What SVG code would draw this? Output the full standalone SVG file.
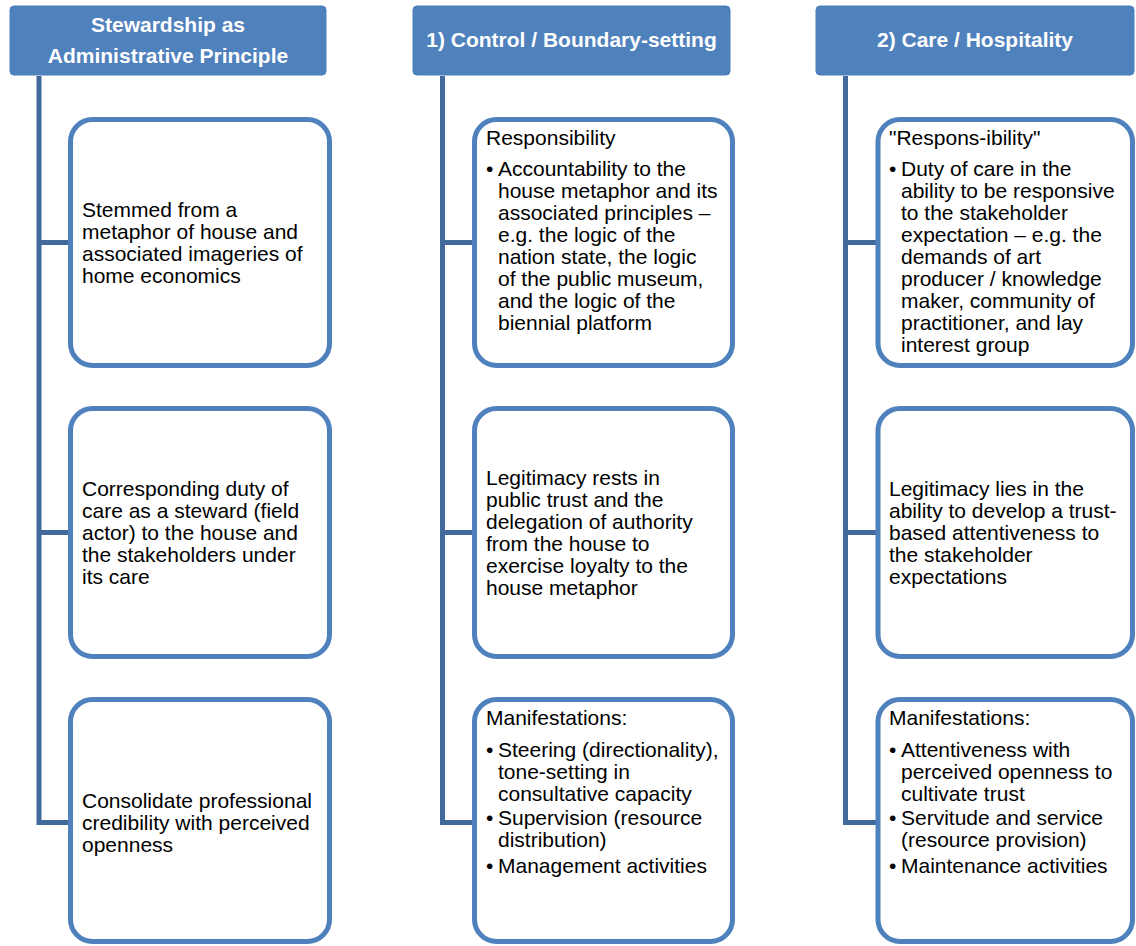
<svg xmlns="http://www.w3.org/2000/svg" width="1136" height="946" viewBox="0 0 1136 946">
<style>
.hdr{fill:#4F81BD;stroke:#4A7CB8;stroke-width:1}
.ht{font-family:"Liberation Sans",Arial,sans-serif;font-size:21px;font-weight:bold;fill:#FFFFFF;text-anchor:middle}
.box{fill:#FFFFFF;stroke:#4F81BD;stroke-width:5}
.t{font-family:"Liberation Sans",Arial,sans-serif;font-size:21px;fill:#000000}
.con{fill:none;stroke:#41699A;stroke-width:5}
</style>
<rect width="1136" height="946" fill="#FFFFFF"/>
<g id="connectors">
<path class="con" d="M39 76 V822.5 H70"/>
<path class="con" d="M39 242.5 H70 M39 532.5 H70"/>
<path class="con" d="M442.5 76 V822.5 H474.5"/>
<path class="con" d="M442.5 242.5 H474.5 M442.5 532.5 H474.5"/>
<path class="con" d="M845.5 76 V822.5 H878"/>
<path class="con" d="M845.5 242.5 H878 M845.5 532.5 H878"/>
</g>
<g id="h1">
<rect class="hdr" x="10" y="6" width="316" height="69" rx="4"/>
<text class="ht" x="168" y="32">Stewardship as</text>
<text class="ht" x="168" y="63">Administrative Principle</text>
</g>
<g id="h2">
<rect class="hdr" x="413" y="6" width="317" height="69" rx="4"/>
<text class="ht" x="571.5" y="47">1) Control / Boundary-setting</text>
</g>
<g id="h3">
<rect class="hdr" x="816" y="6" width="318" height="69" rx="4"/>
<text class="ht" x="975" y="47">2) Care / Hospitality</text>
</g>
<g id="c1b1">
<rect class="box" x="70.5" y="119.5" width="259" height="246" rx="22"/>
<text class="t" x="82" y="217">Stemmed from a</text>
<text class="t" x="82" y="239">metaphor of house and</text>
<text class="t" x="82" y="261">associated imageries of</text>
<text class="t" x="82" y="283">home economics</text>
</g>
<g id="c1b2">
<rect class="box" x="70.5" y="408.5" width="259" height="248" rx="22"/>
<text class="t" x="82" y="496">Corresponding duty of</text>
<text class="t" x="82" y="518">care as a steward (field</text>
<text class="t" x="82" y="540">actor) to the house and</text>
<text class="t" x="82" y="562">the stakeholders under</text>
<text class="t" x="82" y="584">its care</text>
</g>
<g id="c1b3">
<rect class="box" x="70.5" y="699.5" width="259" height="242" rx="22"/>
<text class="t" x="82" y="808">Consolidate professional</text>
<text class="t" x="82" y="830">credibility with perceived</text>
<text class="t" x="82" y="852">openness</text>
</g>
<g id="c2b1">
<rect class="box" x="474.5" y="119.5" width="258" height="246" rx="22"/>
<text class="t" x="486" y="145">Responsibility</text>
<text class="t" x="486" y="176">•</text>
<text class="t" x="498" y="176">Accountability to the</text>
<text class="t" x="498" y="198">house metaphor and its</text>
<text class="t" x="498" y="220">associated principles –</text>
<text class="t" x="498" y="242">e.g. the logic of the</text>
<text class="t" x="498" y="264">nation state, the logic</text>
<text class="t" x="498" y="286">of the public museum,</text>
<text class="t" x="498" y="308">and the logic of the</text>
<text class="t" x="498" y="330">biennial platform</text>
</g>
<g id="c2b2">
<rect class="box" x="474.5" y="408.5" width="258" height="248" rx="22"/>
<text class="t" x="486" y="485">Legitimacy rests in</text>
<text class="t" x="486" y="507">public trust and the</text>
<text class="t" x="486" y="529">delegation of authority</text>
<text class="t" x="486" y="551">from the house to</text>
<text class="t" x="486" y="573">exercise loyalty to the</text>
<text class="t" x="486" y="595">house metaphor</text>
</g>
<g id="c2b3">
<rect class="box" x="474.5" y="699.5" width="258" height="242" rx="22"/>
<text class="t" x="486" y="725">Manifestations:</text>
<text class="t" x="486" y="757">•</text>
<text class="t" x="498" y="757">Steering (directionality),</text>
<text class="t" x="498" y="779">tone-setting in</text>
<text class="t" x="498" y="801">consultative capacity</text>
<text class="t" x="486" y="825">•</text>
<text class="t" x="498" y="825">Supervision (resource</text>
<text class="t" x="498" y="847">distribution)</text>
<text class="t" x="486" y="873">•</text>
<text class="t" x="498" y="873">Management activities</text>
</g>
<g id="c3b1">
<rect class="box" x="878" y="119.5" width="254.5" height="246" rx="22"/>
<text class="t" x="889" y="145">"Respons-ibility"</text>
<text class="t" x="889" y="176">•</text>
<text class="t" x="901" y="176">Duty of care in the</text>
<text class="t" x="901" y="198">ability to be responsive</text>
<text class="t" x="901" y="220">to the stakeholder</text>
<text class="t" x="901" y="242">expectation – e.g. the</text>
<text class="t" x="901" y="264">demands of art</text>
<text class="t" x="901" y="286">producer / knowledge</text>
<text class="t" x="901" y="308">maker, community of</text>
<text class="t" x="901" y="330">practitioner, and lay</text>
<text class="t" x="901" y="352">interest group</text>
</g>
<g id="c3b2">
<rect class="box" x="878" y="408.5" width="254.5" height="248" rx="22"/>
<text class="t" x="889" y="496">Legitimacy lies in the</text>
<text class="t" x="889" y="518">ability to develop a trust-</text>
<text class="t" x="889" y="540">based attentiveness to</text>
<text class="t" x="889" y="562">the stakeholder</text>
<text class="t" x="889" y="584">expectations</text>
</g>
<g id="c3b3">
<rect class="box" x="878" y="699.5" width="254.5" height="242" rx="22"/>
<text class="t" x="889" y="725">Manifestations:</text>
<text class="t" x="889" y="757">•</text>
<text class="t" x="901" y="757">Attentiveness with</text>
<text class="t" x="901" y="779">perceived openness to</text>
<text class="t" x="901" y="801">cultivate trust</text>
<text class="t" x="889" y="825">•</text>
<text class="t" x="901" y="825">Servitude and service</text>
<text class="t" x="901" y="847">(resource provision)</text>
<text class="t" x="889" y="873">•</text>
<text class="t" x="901" y="873">Maintenance activities</text>
</g>
</svg>
